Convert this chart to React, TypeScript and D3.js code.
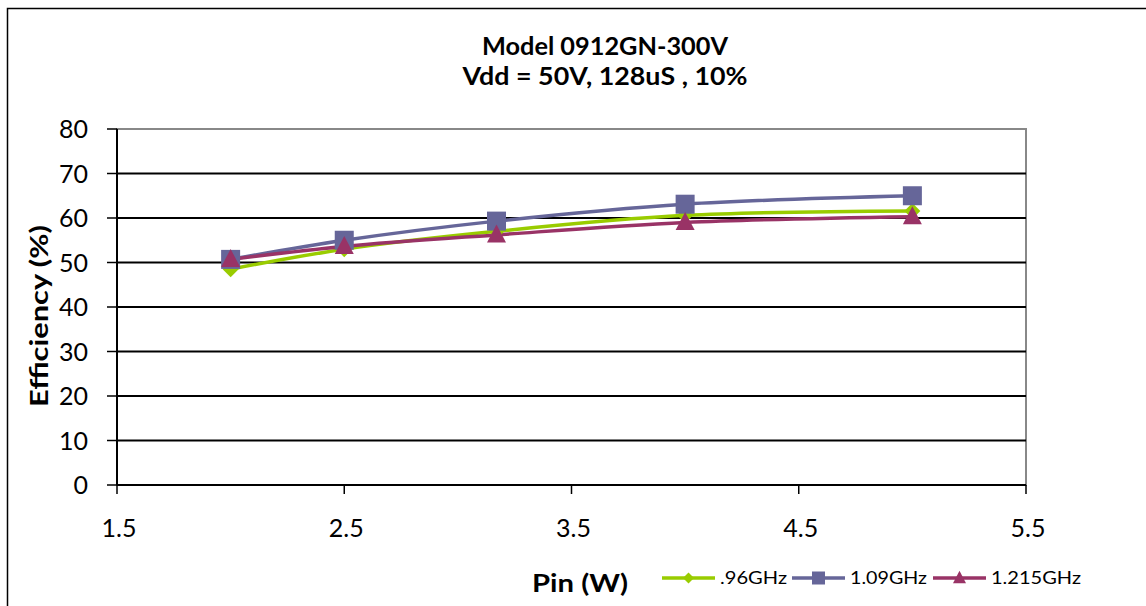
import { useEffect, useRef } from 'react';
import * as d3 from 'd3';

const pinWatts = [2, 2.5, 3.17, 4, 5];
const eff096 = [48.5, 53, 57, 60.6, 61.6];
const eff109 = [50.7, 55, 59.3, 63.1, 65];
const eff1215 = [50.7, 53.6, 56.2, 59, 60.3];
const xTicks = [1.5, 2.5, 3.5, 4.5, 5.5];
const yTicks = [0, 10, 20, 30, 40, 50, 60, 70, 80];

const series = [
  { name: '.96GHz', values: eff096, color: '#99CC00', marker: 'diamond' },
  { name: '1.09GHz', values: eff109, color: '#666699', marker: 'square' },
  { name: '1.215GHz', values: eff1215, color: '#993366', marker: 'triangle' },
];

const W = 1146;
const H = 606;
const FONT = 'Lato, "Open Sans", sans-serif';

export default function App() {
  const svgRef = useRef<SVGSVGElement>(null);

  useEffect(() => {
    const svg = d3.select(svgRef.current);
    svg.selectAll('*').remove();

    const left = 117;
    const right = 1026;
    const top = 129;
    const bottom = 485;
    const x = d3.scaleLinear().domain([1.5, 5.5]).range([left, right]);
    const y = d3.scaleLinear().domain([0, 80]).range([bottom, top]);

    svg.append('rect').attr('width', W).attr('height', H).attr('fill', '#fff');
    // outer chart border, runs off the right and bottom
    svg
      .append('rect')
      .attr('x', 7.5)
      .attr('y', 8.5)
      .attr('width', W + 20)
      .attr('height', H + 20)
      .attr('fill', 'none')
      .attr('stroke', '#000')
      .attr('stroke-width', 1.5);

    // plot area border
    svg
      .append('rect')
      .attr('x', left)
      .attr('y', top)
      .attr('width', right - left)
      .attr('height', bottom - top)
      .attr('fill', 'none')
      .attr('stroke', '#888')
      .attr('stroke-width', 2);

    // gridlines
    svg
      .append('g')
      .selectAll('line')
      .data(yTicks.filter((t) => t > 0 && t < 80))
      .enter()
      .append('line')
      .attr('x1', left)
      .attr('x2', right)
      .attr('y1', (d) => y(d))
      .attr('y2', (d) => y(d))
      .attr('stroke', '#000')
      .attr('stroke-width', 2);

    // y axis
    svg
      .append('line')
      .attr('x1', left)
      .attr('x2', left)
      .attr('y1', top)
      .attr('y2', bottom)
      .attr('stroke', '#000')
      .attr('stroke-width', 2);
    const yg = svg.append('g');
    yTicks.forEach((t) => {
      yg.append('line')
        .attr('x1', left - 10)
        .attr('x2', left)
        .attr('y1', y(t))
        .attr('y2', y(t))
        .attr('stroke', '#000')
        .attr('stroke-width', 1.5);
      yg.append('text')
        .attr('x', left - 29)
        .attr('y', y(t))
        .attr('dy', '0.36em')
        .attr('text-anchor', 'end')
        .attr('font-family', FONT)
        .attr('font-size', 25)
        .text(t);
    });

    // x axis
    svg
      .append('line')
      .attr('x1', left)
      .attr('x2', right)
      .attr('y1', bottom)
      .attr('y2', bottom)
      .attr('stroke', '#000')
      .attr('stroke-width', 2);
    const xg = svg.append('g');
    xTicks.forEach((t) => {
      xg.append('line')
        .attr('x1', x(t))
        .attr('x2', x(t))
        .attr('y1', t === 1.5 ? bottom - 10 : bottom)
        .attr('y2', bottom + 9)
        .attr('stroke', '#000')
        .attr('stroke-width', 1.5);
      xg.append('text')
        .attr('x', x(t) + 2)
        .attr('y', bottom + 52)
        .attr('text-anchor', 'middle')
        .attr('font-family', FONT)
        .attr('font-size', 25)
        .text(t.toFixed(1));
    });

    const line = d3
      .line<number>()
      .x((_d, i) => x(pinWatts[i]))
      .y((d) => y(d))
      .curve(d3.curveCatmullRom.alpha(0.5));

    const drawMarker = (
      g: d3.Selection<SVGGElement, unknown, null, undefined>,
      kind: string,
      cx: number,
      cy: number,
      color: string,
      size: number,
    ) => {
      if (kind === 'square') {
        g.append('rect')
          .attr('x', cx - size / 2)
          .attr('y', cy - size / 2)
          .attr('width', size)
          .attr('height', size)
          .attr('fill', color);
      } else if (kind === 'diamond') {
        const s = size / 2;
        g.append('path')
          .attr('d', `M${cx},${cy - s}L${cx + s},${cy}L${cx},${cy + s}L${cx - s},${cy}Z`)
          .attr('fill', color);
      } else {
        const s = size / 2;
        g.append('path')
          .attr('d', `M${cx},${cy - s * 1.1}L${cx + s},${cy + s * 0.8}L${cx - s},${cy + s * 0.8}Z`)
          .attr('fill', color);
      }
    };

    const plot = svg.append('g');
    series.forEach((s) => {
      plot
        .append('path')
        .attr('d', line(s.values) ?? '')
        .attr('fill', 'none')
        .attr('stroke', s.color)
        .attr('stroke-width', 3.5);
    });
    series.forEach((s) => {
      const mg = plot.append('g');
      s.values.forEach((v, i) => {
        drawMarker(mg, s.marker, x(pinWatts[i]), y(v), s.color, s.marker === 'diamond' ? 16 : 19);
      });
    });

    // titles
    const title = svg
      .append('g')
      .attr('font-family', FONT)
      .attr('font-weight', 'bold')
      .attr('font-size', 24)
      .attr('text-anchor', 'middle');
    title
      .append('text')
      .attr('x', 605)
      .attr('y', 55)
      .attr('textLength', 246)
      .attr('lengthAdjust', 'spacingAndGlyphs')
      .text('Model 0912GN-300V');
    title
      .append('text')
      .attr('x', 605)
      .attr('y', 85)
      .attr('textLength', 285)
      .attr('lengthAdjust', 'spacingAndGlyphs')
      .text('Vdd = 50V,  128uS  , 10%');

    svg
      .append('text')
      .attr('transform', `translate(48,316) rotate(-90)`)
      .attr('text-anchor', 'middle')
      .attr('font-family', FONT)
      .attr('font-weight', 'bold')
      .attr('font-size', 25)
      .attr('textLength', 182)
      .attr('lengthAdjust', 'spacingAndGlyphs')
      .text('Efficiency (%)');

    svg
      .append('text')
      .attr('x', 580)
      .attr('y', 592)
      .attr('text-anchor', 'middle')
      .attr('font-family', FONT)
      .attr('font-weight', 'bold')
      .attr('font-size', 25)
      .attr('textLength', 96)
      .attr('lengthAdjust', 'spacingAndGlyphs')
      .text('Pin (W)');

    // legend
    const legendX = [662, 792, 933];
    const legendTextLen = [67, 77, 90];
    const ly = 578;
    const lg = svg.append('g');
    series.forEach((s, i) => {
      const lx = legendX[i];
      lg.append('line')
        .attr('x1', lx)
        .attr('x2', lx + 53)
        .attr('y1', ly)
        .attr('y2', ly)
        .attr('stroke', s.color)
        .attr('stroke-width', 3.5);
      drawMarker(lg, s.marker, lx + 26.5, ly, s.color, s.marker === 'diamond' ? 11 : 13);
      lg.append('text')
        .attr('x', lx + 58)
        .attr('y', ly)
        .attr('dy', '0.36em')
        .attr('font-family', FONT)
        .attr('font-size', 18)
        .attr('textLength', legendTextLen[i])
        .attr('lengthAdjust', 'spacingAndGlyphs')
        .text(s.name);
    });
  }, []);

  return (
    <svg
      ref={svgRef}
      width={W}
      height={H}
      viewBox={`0 0 ${W} ${H}`}
      style={{ position: 'absolute', left: 0, top: 0 }}
    />
  );
}
